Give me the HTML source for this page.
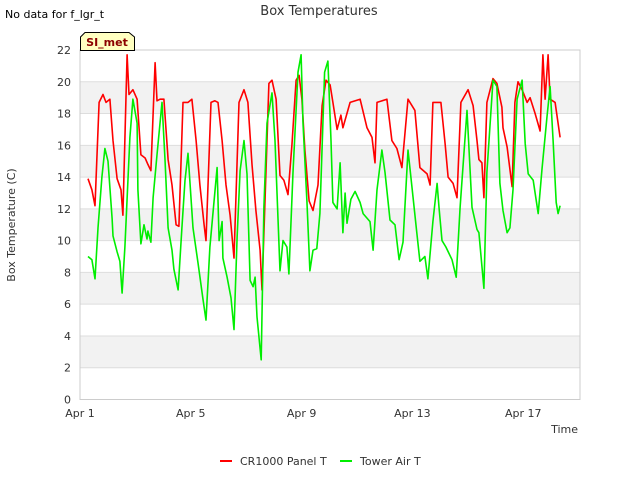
<!DOCTYPE html>
<html><head><meta charset="utf-8"><style>
body{margin:0;background:#fff;}
svg{display:block;font-family:"DejaVu Sans","Liberation Sans",sans-serif;}
</style></head><body>
<svg id="chart" width="640" height="480" viewBox="0 0 640 480">
<text x="5" y="18" font-size="11" fill="#000">No data for f_lgr_t</text>
<text x="319" y="15" font-size="13" fill="#333" text-anchor="middle">Box Temperatures</text>
<g id="bands"></g>
<g id="grid"></g>
<rect x="80" y="50" width="500" height="349.5" fill="none" stroke="#ccc"/>
<g id="yticks"></g>
<g id="xticks"></g>
<g id="series"></g>
<text x="15" y="225" font-size="11" fill="#333" text-anchor="middle" transform="rotate(-90 15 225)">Box Temperature (C)</text>
<text x="578" y="433" font-size="11" fill="#333" text-anchor="end">Time</text>
<g>
<path d="M80.5,50.5 L80.5,37 L85,32.5 L129,32.5 L134.5,37 L134.5,50.5 Z" fill="#ffffc0" stroke="#000"/>
<text x="107" y="46" font-size="11" font-weight="bold" fill="#8b0000" text-anchor="middle">SI_met</text>
</g>
<g>
<g><line x1="220" y1="461" x2="232" y2="461" stroke="#f00" stroke-width="2"/><text x="240" y="465" font-size="11" fill="#333">CR1000 Panel T</text></g>
<g><line x1="340" y1="461" x2="352" y2="461" stroke="#0e0" stroke-width="2"/><text x="360" y="465" font-size="11" fill="#333">Tower Air T</text></g>
</g>
</svg>
<script>
const yTicks=[0,2,4,6,8,10,12,14,16,18,20,22];
const xTickDays=[0,4,8,12,16];
const xTickLabels=["Apr 1","Apr 5","Apr 9","Apr 13","Apr 17"];
const redDays=[0.29,0.43,0.54,0.69,0.83,0.94,1.08,1.19,1.34,1.48,1.55,1.70,1.77,1.91,2.06,2.20,2.35,2.45,2.56,2.71,2.78,2.89,3.03,3.18,3.32,3.47,3.57,3.72,3.90,4.04,4.19,4.33,4.48,4.55,4.73,4.87,4.98,5.13,5.27,5.42,5.56,5.74,5.92,6.06,6.21,6.35,6.50,6.57,6.68,6.82,6.93,7.08,7.22,7.36,7.51,7.65,7.80,7.91,8.01,8.12,8.27,8.41,8.59,8.74,8.88,9.03,9.13,9.28,9.42,9.49,9.75,10.11,10.36,10.54,10.65,10.72,11.08,11.26,11.44,11.62,11.84,12.09,12.27,12.53,12.64,12.74,13.03,13.18,13.29,13.47,13.61,13.75,14.01,14.19,14.33,14.40,14.51,14.58,14.69,14.91,15.05,15.23,15.27,15.42,15.60,15.70,15.81,15.96,16.14,16.25,16.43,16.61,16.71,16.79,16.90,16.97,17.15,17.33];
const redValues=[13.9,13.2,12.2,18.7,19.2,18.7,18.9,16.3,13.9,13.2,11.6,21.7,19.2,19.5,18.9,15.4,15.2,14.8,14.4,21.2,18.8,18.9,18.9,15.1,13.5,11.0,10.9,18.7,18.7,18.9,16.3,13.5,11.0,10.0,18.7,18.8,18.7,16.3,13.5,11.6,8.9,18.7,19.5,18.7,14.8,11.9,9.4,6.9,12.5,19.9,20.1,18.9,14.1,13.8,12.9,16.0,20.1,20.4,18.9,15.7,12.5,11.9,13.5,18.5,20.1,19.8,18.7,17.0,17.9,17.1,18.7,18.9,17.1,16.5,14.9,18.7,18.9,16.3,15.8,14.6,18.9,18.2,14.6,14.2,13.5,18.7,18.7,16.1,14.0,13.6,12.7,18.7,19.5,18.5,16.3,15.1,14.9,12.7,18.7,20.2,19.9,18.4,17.1,15.9,13.4,18.7,20.0,19.5,18.7,19.0,18.0,16.9,21.7,18.9,21.7,18.9,18.7,16.5];
const greenDays=[0.29,0.43,0.54,0.65,0.79,0.90,1.01,1.16,1.19,1.34,1.44,1.52,1.62,1.80,1.91,2.06,2.09,2.20,2.31,2.42,2.45,2.56,2.64,2.78,2.96,3.07,3.18,3.32,3.39,3.54,3.68,3.79,3.90,4.08,4.26,4.44,4.55,4.69,4.95,5.02,5.13,5.16,5.31,5.45,5.56,5.67,5.78,5.92,6.03,6.14,6.25,6.32,6.39,6.54,6.64,6.75,6.93,7.04,7.22,7.33,7.47,7.54,7.69,7.87,7.98,8.05,8.19,8.30,8.41,8.55,8.66,8.83,8.95,9.06,9.13,9.28,9.39,9.49,9.57,9.64,9.78,9.93,10.11,10.22,10.47,10.58,10.72,10.90,11.01,11.19,11.37,11.52,11.66,11.84,11.98,12.16,12.27,12.45,12.56,12.74,12.89,12.96,13.07,13.21,13.43,13.58,13.72,13.97,14.15,14.33,14.40,14.58,14.69,14.91,15.05,15.16,15.27,15.42,15.52,15.63,15.78,15.96,16.07,16.18,16.36,16.54,16.68,16.86,16.97,17.08,17.19,17.26,17.33];
const greenValues=[9.0,8.8,7.6,10.8,14.0,15.8,15.0,11.4,10.3,9.3,8.7,6.7,9.6,16.5,18.9,17.4,13.2,9.8,11.0,10.1,10.6,9.9,12.7,15.4,18.7,15.1,10.8,9.4,8.2,6.9,10.8,13.8,15.5,10.8,8.6,6.3,5.0,9.6,14.6,10.0,11.2,8.9,7.7,6.4,4.4,10.2,14.4,16.3,14.2,7.5,7.1,7.7,5.2,2.5,12.1,17.4,19.3,16.3,8.1,10.0,9.6,7.9,14.3,20.6,21.7,17.4,12.5,8.1,9.4,9.5,11.7,20.6,21.3,16.3,12.4,12.0,14.9,10.5,13.0,11.1,12.6,13.1,12.4,11.7,11.2,9.4,13.2,15.7,14.3,11.3,11.0,8.8,9.9,15.7,13.4,10.5,8.7,9.0,7.6,11.2,13.6,12.1,10.0,9.6,8.8,7.7,12.1,18.2,12.1,10.7,10.5,7.0,14.3,20.1,19.7,13.6,11.9,10.5,10.8,13.2,18.9,20.1,16.1,14.2,13.8,11.7,14.5,17.8,19.7,16.3,12.4,11.7,12.2];

const NS="http://www.w3.org/2000/svg";
const X0=80,X1=580,Y0=399.5,Y1=50,DMAX=18.05,VMAX=22;
function xs(d){return X0+(X1-X0)*d/DMAX;}
function ys(v){return Y0-(Y0-Y1)*v/VMAX;}
function mk(tag,attrs,parent){const e=document.createElementNS(NS,tag);for(const k in attrs)e.setAttribute(k,attrs[k]);parent.appendChild(e);return e;}
const bands=document.getElementById('bands'),grid=document.getElementById('grid'),yt=document.getElementById('yticks'),xt=document.getElementById('xticks'),ser=document.getElementById('series');
for(let i=0;i<yTicks.length-1;i++){
  if(i%2===1){const r=mk('rect',{x:X0,y:ys(yTicks[i+1]),width:X1-X0,height:ys(yTicks[i])-ys(yTicks[i+1]),fill:'#f2f2f2'},bands);
  
  }
}
yTicks.forEach(v=>{
  const l=mk('line',{x1:X0,x2:X1,y1:ys(v),y2:ys(v),stroke:'#ddd'},grid);
  
  
  const t=mk('text',{x:71,y:ys(v)+4,'font-size':11,fill:'#333','text-anchor':'end'},yt);
  t.textContent=v;
  
  
});
xTickDays.forEach((d,i)=>{
  const t=mk('text',{x:xs(d),y:417,'font-size':11,fill:'#333','text-anchor':'middle'},xt);
  t.textContent=xTickLabels[i];
  
  
});
function line(days,vals,color,name){
  const pts=days.map((d,i)=>xs(d).toFixed(1)+','+ys(vals[i]).toFixed(1)).join(' ');
  const p=mk('polyline',{points:pts,fill:'none',stroke:color,'stroke-width':1.6,'stroke-linejoin':'round'},ser);
  
  
}
line(redDays,redValues,'#f00','cr1000-panel-t-line');
line(greenDays,greenValues,'#0e0','tower-air-t-line');
</script>
</body></html>
